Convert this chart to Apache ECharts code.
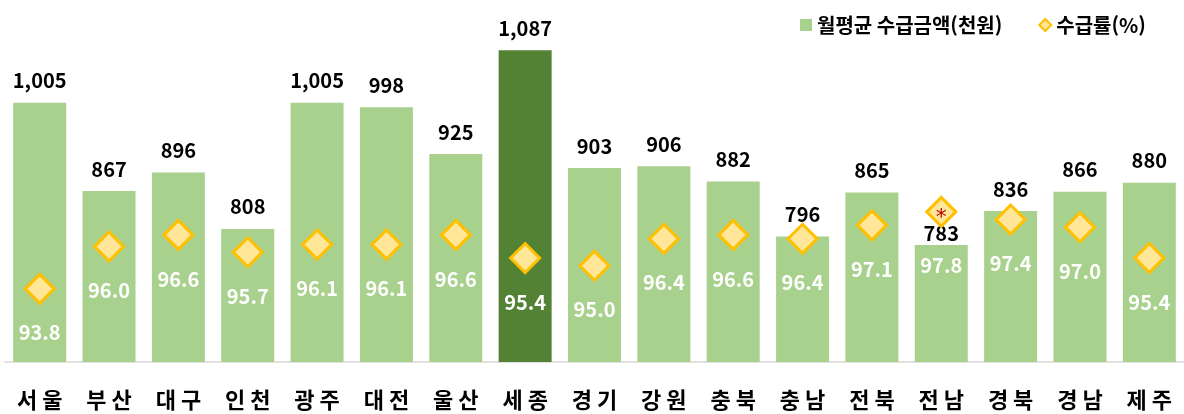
<!DOCTYPE html>
<html lang="ko">
<head>
<meta charset="utf-8">
<title>시도별 월평균 수급금액 및 수급률</title>
<script src="https://cdn.jsdelivr.net/npm/echarts@6/dist/echarts.min.js"></script>
<style>
  html, body { margin: 0; padding: 0; background: #ffffff; }
  #chart { width: 1184px; height: 414px; }
</style>
</head>
<body>
<div id="chart"></div>
<script>
// 시도 (categories)
const regions = ['서울', '부산', '대구', '인천', '광주', '대전', '울산', '세종', '경기',
                 '강원', '충북', '충남', '전북', '전남', '경북', '경남', '제주'];
// 월평균 수급금액 (천원)
const monthlyAmount = [1005, 867, 896, 808, 1005, 998, 925, 1087, 903,
                       906, 882, 796, 865, 783, 836, 866, 880];
// 수급률 (%)
const receiptRate = [93.8, 96.0, 96.6, 95.7, 96.1, 96.1, 96.6, 95.4, 95.0,
                     96.4, 96.6, 96.4, 97.1, 97.8, 97.4, 97.0, 95.4];
// 수급률 표시 옆의 주석 기호
const rateNotes = ['', '', '', '', '', '', '', '', '',
                   '', '', '', '', '*', '', '', ''];
const highlightRegion = '세종';

const AMOUNT_NAME = '월평균 수급금액(천원)';
const RATE_NAME = '수급률(%)';
const FONT = '"Noto Sans CJK KR", "Noto Sans", sans-serif';

const LIGHT_GREEN = '#A9D18E';
const DARK_GREEN = '#548235';
const DIAMOND_FILL = '#FFE699';
const DIAMOND_EDGE = '#FFC000';

const fmtThousands = v => String(v).replace(/\B(?=(\d{3})+(?!\d))/g, ',');

// where a note diamond sits over the bar top, the amount label tucks in closer to the bar
const barData = regions.map((r, i) => {
  const item = { value: monthlyAmount[i] };
  if (r === highlightRegion) item.itemStyle = { color: DARK_GREEN };
  if (rateNotes[i]) item.label = { distance: 1 };
  return item;
});

// and the rate label under that diamond drops a little lower
const rateData = receiptRate.map((v, i) => {
  const item = { value: v };
  if (rateNotes[i]) item.label = { offset: [0, 54] };
  return item;
});

const chart = echarts.init(document.getElementById('chart'), null, { renderer: 'canvas' });

chart.setOption({
  animation: false,
  textStyle: { fontFamily: FONT },
  grid: { left: 5, width: 1183, top: 42, height: 320, containLabel: false },
  legend: {
    left: 795,
    top: 10,
    itemWidth: 12,
    itemHeight: 12,
    itemGap: 36,
    textStyle: { fontFamily: FONT, fontSize: 20, fontWeight: 'bold', color: '#000000' },
    data: [
      { name: AMOUNT_NAME, icon: 'rect', itemStyle: { color: LIGHT_GREEN, borderWidth: 0 } },
      { name: RATE_NAME, icon: 'diamond', itemStyle: { color: DIAMOND_FILL, borderColor: DIAMOND_EDGE, borderWidth: 2, opacity: 1 } }
    ]
  },
  xAxis: {
    type: 'category',
    data: regions,
    axisLine: { show: true, lineStyle: { color: '#D9D9D9', width: 1.5 } },
    axisTick: { show: false },
    axisLabel: {
      margin: 27,
      fontFamily: FONT,
      fontSize: 22,
      fontWeight: 'bold',
      color: '#000000',
      formatter: v => v.split('').join(' ')
    }
  },
  yAxis: [
    { type: 'value', min: 600, max: 1100, show: false },
    { type: 'value', min: 90, max: 106.62, show: false }
  ],
  series: [
    {
      name: AMOUNT_NAME,
      type: 'bar',
      data: barData,
      barWidth: 53,
      itemStyle: { color: LIGHT_GREEN },
      label: {
        show: true,
        position: 'top',
        distance: 12,
        fontFamily: FONT,
        fontSize: 20,
        fontWeight: 'bold',
        color: '#000000',
        formatter: p => fmtThousands(p.value)
      },
      z: 2
    },
    {
      name: RATE_NAME,
      type: 'scatter',
      yAxisIndex: 1,
      data: rateData,
      symbol: 'diamond',
      symbolSize: 29,
      itemStyle: { color: DIAMOND_FILL, borderColor: DIAMOND_EDGE, borderWidth: 3, opacity: 1 },
      label: {
        show: true,
        position: 'inside',
        offset: [0, 44],
        fontFamily: FONT,
        fontSize: 20,
        fontWeight: 'bold',
        color: '#FFFFFF',
        formatter: p => p.value.toFixed(1)
      },
      z: 3
    },
    {
      name: 'rate-notes',
      type: 'scatter',
      yAxisIndex: 1,
      data: receiptRate,
      symbolSize: 0,
      itemStyle: { color: 'transparent', opacity: 1 },
      silent: true,
      label: {
        show: true,
        position: 'inside',
        offset: [0, 6],
        fontFamily: '"DejaVu Sans", sans-serif',
        fontSize: 22,
        fontWeight: 'normal',
        color: '#C00000',
        formatter: p => rateNotes[p.dataIndex]
      },
      z: 5
    }
  ]
});
</script>
</body>
</html>
